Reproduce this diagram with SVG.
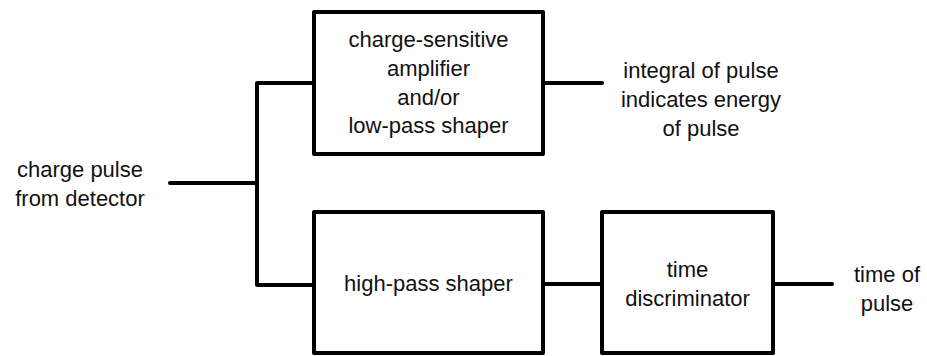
<svg xmlns="http://www.w3.org/2000/svg" width="927" height="356" viewBox="0 0 927 356">
<style>
.box{fill:#fff;stroke:#000;stroke-width:4;stroke-linejoin:round}
.ln{fill:none;stroke:#000;stroke-width:4;stroke-linecap:round;stroke-linejoin:round}
text{font-family:"Liberation Sans",Arial,sans-serif;font-size:22px;fill:#111;text-anchor:middle}
</style>
<rect width="927" height="356" fill="#fff"/>
<g id="connectors">
<path class="ln" d="M170 183 H257"/>
<path class="ln" d="M314 83 H257 V285 H314"/>
<path class="ln" d="M543 83 H602"/>
<path class="ln" d="M543 284 H602"/>
<path class="ln" d="M773 284 H832"/>
</g>
<g id="input">
<text x="80" y="177">charge pulse</text>
<text x="80" y="206">from detector</text>
</g>
<g id="csa">
<rect class="box" x="314" y="12" width="229" height="142"/>
<text x="428.5" y="47">charge-sensitive</text>
<text x="428.5" y="76">amplifier</text>
<text x="428.5" y="105">and/or</text>
<text x="428.5" y="133">low-pass shaper</text>
</g>
<g id="energy">
<text x="701" y="78">integral of pulse</text>
<text x="701" y="107">indicates energy</text>
<text x="701" y="136">of pulse</text>
</g>
<g id="hps">
<rect class="box" x="314" y="212" width="229" height="141"/>
<text x="428.5" y="291">high-pass shaper</text>
</g>
<g id="td">
<rect class="box" x="602" y="212" width="171" height="141"/>
<text x="687.5" y="277">time</text>
<text x="687.5" y="306">discriminator</text>
</g>
<g id="time">
<text x="887" y="282">time of</text>
<text x="887" y="311">pulse</text>
</g>
</svg>
